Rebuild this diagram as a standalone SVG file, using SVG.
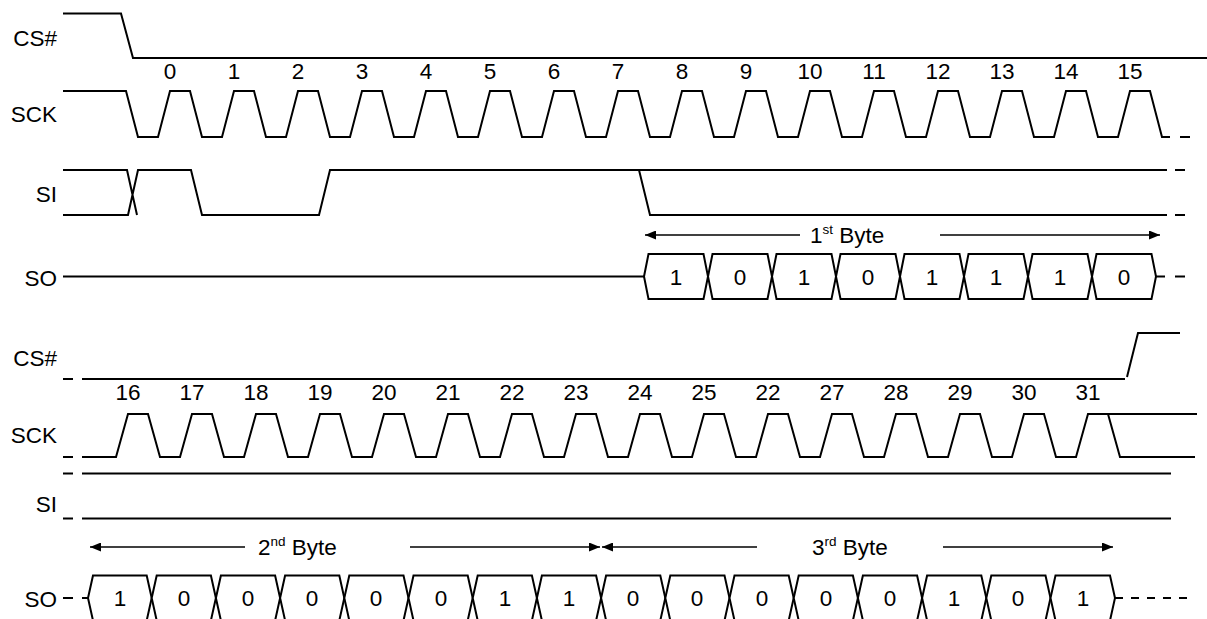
<svg xmlns="http://www.w3.org/2000/svg" width="1207" height="619" viewBox="0 0 1207 619">
<style>
.w{fill:none;stroke:#000;stroke-width:2;stroke-linejoin:miter}
.c{fill:#fff;stroke:#000;stroke-width:2}
.a{fill:none;stroke:#000;stroke-width:1.5}
text{font-family:"Liberation Sans",Arial,sans-serif;font-size:22.5px;fill:#000}
.l{text-anchor:end}
.m{text-anchor:middle}
.sup{font-size:13.5px}
</style>
<defs>
<marker id="ah" viewBox="0 0 11 9" refX="11" refY="4.5" markerWidth="11" markerHeight="9" markerUnits="userSpaceOnUse" orient="auto">
<path d="M0,0 L11,4.5 L0,9 z" fill="#000"/>
</marker>
</defs>
<rect width="1207" height="619" fill="#fff"/>

<g id="top-cs">
<text class="l" x="57" y="45.5">CS#</text>
<path class="w" d="M63,13.5 H121 L133,58 H1207"/>
</g>

<g id="top-sck">
<text class="l" x="57" y="122">SCK</text>
<path class="w" d="M63,91 H126 L138,137 H158 L170,91 H190 L202,137 H222 L234,91 H254 L266,137 H286 L298,91 H318 L330,137 H350 L362,91 H382 L394,137 H414 L426,91 H446 L458,137 H478 L490,91 H510 L522,137 H542 L554,91 H574 L586,137 H606 L618,91 H638 L650,137 H670 L682,91 H702 L714,137 H734 L746,91 H766 L778,137 H798 L810,91 H830 L842,137 H862 L874,91 H894 L906,137 H926 L938,91 H958 L970,137 H990 L1002,91 H1022 L1034,137 H1054 L1066,91 H1086 L1098,137 H1118 L1130,91 H1150 L1162,137 H1170 M1180,137 H1190"/>
<g class="m">
<text x="170" y="79">0</text><text x="234" y="79">1</text><text x="298" y="79">2</text><text x="362" y="79">3</text>
<text x="426" y="79">4</text><text x="490" y="79">5</text><text x="554" y="79">6</text><text x="618" y="79">7</text>
<text x="682" y="79">8</text><text x="746" y="79">9</text><text x="810" y="79">10</text><text x="874" y="79">11</text>
<text x="938" y="79">12</text><text x="1002" y="79">13</text><text x="1066" y="79">14</text><text x="1130" y="79">15</text>
</g>
</g>

<g id="top-si">
<text class="l" x="57" y="202">SI</text>
<path class="w" d="M63,170 H127 L137,215 M63,215 H128 L138,170 H191 L202,215 H319 L330,170 H1167 M639,170 L650,215 H1167 M1175,170 H1185 M1175,215 H1185"/>
</g>

<g id="top-so">
<text class="l" x="57" y="286">SO</text>
<path class="w" d="M63,276.5 H644 M1156,276.5 H1165 M1175,276.5 H1185"/>
<path class="c" d="M644,276.5 L648.5,254 H703.5 L708,276.5 L703.5,299 H648.5 Z"/>
<path class="c" d="M708,276.5 L712.5,254 H767.5 L772,276.5 L767.5,299 H712.5 Z"/>
<path class="c" d="M772,276.5 L776.5,254 H831.5 L836,276.5 L831.5,299 H776.5 Z"/>
<path class="c" d="M836,276.5 L840.5,254 H895.5 L900,276.5 L895.5,299 H840.5 Z"/>
<path class="c" d="M900,276.5 L904.5,254 H959.5 L964,276.5 L959.5,299 H904.5 Z"/>
<path class="c" d="M964,276.5 L968.5,254 H1023.5 L1028,276.5 L1023.5,299 H968.5 Z"/>
<path class="c" d="M1028,276.5 L1032.5,254 H1087.5 L1092,276.5 L1087.5,299 H1032.5 Z"/>
<path class="c" d="M1092,276.5 L1096.5,254 H1151.5 L1156,276.5 L1151.5,299 H1096.5 Z"/>
<g class="m">
<text x="676" y="285">1</text><text x="740" y="285">0</text><text x="804" y="285">1</text><text x="868" y="285">0</text>
<text x="932" y="285">1</text><text x="996" y="285">1</text><text x="1060" y="285">1</text><text x="1124" y="285">0</text>
</g>
</g>

<g id="bottom-cs">
<text class="l" x="57" y="365.5">CS#</text>
<path class="w" d="M63,379 H73 M82,379 H1125 M1127,377 L1138,333 H1180"/>
</g>

<g id="bottom-sck">
<text class="l" x="57" y="443">SCK</text>
<path class="w" d="M63,457 H73 M82,457 H116 L128,414 H148 L160,457 H180 L192,414 H212 L224,457 H244 L256,414 H276 L288,457 H308 L320,414 H340 L352,457 H372 L384,414 H404 L416,457 H436 L448,414 H468 L480,457 H500 L512,414 H532 L544,457 H564 L576,414 H596 L608,457 H628 L640,414 H660 L672,457 H692 L704,414 H724 L736,457 H756 L768,414 H788 L800,457 H820 L832,414 H852 L864,457 H884 L896,414 H916 L928,457 H948 L960,414 H980 L992,457 H1012 L1024,414 H1044 L1056,457 H1076 L1088,414 H1108 L1120,457 H1195 M1108,414 H1197"/>
<g class="m">
<text x="128" y="400">16</text><text x="192" y="400">17</text><text x="256" y="400">18</text><text x="320" y="400">19</text>
<text x="384" y="400">20</text><text x="448" y="400">21</text><text x="512" y="400">22</text><text x="576" y="400">23</text>
<text x="640" y="400">24</text><text x="704" y="400">25</text><text x="768" y="400">22</text><text x="832" y="400">27</text>
<text x="896" y="400">28</text><text x="960" y="400">29</text><text x="1024" y="400">30</text><text x="1088" y="400">31</text>
</g>
</g>

<g id="bottom-si">
<text class="l" x="57" y="512">SI</text>
<path class="w" d="M63,473.5 H73 M82,473.5 H1171 M63,518.5 H73 M82,518.5 H1171"/>
</g>

<g id="bottom-so">
<text class="l" x="57" y="607">SO</text>
<path class="w" d="M63,598 H73 M82,598 H88"/>
<path class="w" d="M1115,598 H1195" stroke-dasharray="8 8"/>
<path class="c" d="M88,598 L93,575.5 H146.7 L151.7,598 L146.7,620.5 H93 Z"/>
<path class="c" d="M151.7,598 L156.7,575.5 H210.9 L215.9,598 L210.9,620.5 H156.7 Z"/>
<path class="c" d="M215.9,598 L220.9,575.5 H275.1 L280.1,598 L275.1,620.5 H220.9 Z"/>
<path class="c" d="M280.1,598 L285.1,575.5 H339.3 L344.3,598 L339.3,620.5 H285.1 Z"/>
<path class="c" d="M344.3,598 L349.3,575.5 H403.5 L408.5,598 L403.5,620.5 H349.3 Z"/>
<path class="c" d="M408.5,598 L413.5,575.5 H467.7 L472.7,598 L467.7,620.5 H413.5 Z"/>
<path class="c" d="M472.7,598 L477.7,575.5 H531.9 L536.9,598 L531.9,620.5 H477.7 Z"/>
<path class="c" d="M536.9,598 L541.9,575.5 H596.1 L601.1,598 L596.1,620.5 H541.9 Z"/>
<path class="c" d="M601.1,598 L606.1,575.5 H660.3 L665.3,598 L660.3,620.5 H606.1 Z"/>
<path class="c" d="M665.3,598 L670.3,575.5 H724.5 L729.5,598 L724.5,620.5 H670.3 Z"/>
<path class="c" d="M729.5,598 L734.5,575.5 H788.7 L793.7,598 L788.7,620.5 H734.5 Z"/>
<path class="c" d="M793.7,598 L798.7,575.5 H852.9 L857.9,598 L852.9,620.5 H798.7 Z"/>
<path class="c" d="M857.9,598 L862.9,575.5 H917.1 L922.1,598 L917.1,620.5 H862.9 Z"/>
<path class="c" d="M922.1,598 L927.1,575.5 H981.3 L986.3,598 L981.3,620.5 H927.1 Z"/>
<path class="c" d="M986.3,598 L991.3,575.5 H1045.5 L1050.5,598 L1045.5,620.5 H991.3 Z"/>
<path class="c" d="M1050.5,598 L1055.5,575.5 H1110 L1115,598 L1110,620.5 H1055.5 Z"/>
<g class="m">
<text x="120" y="606">1</text><text x="184" y="606">0</text><text x="248" y="606">0</text><text x="312" y="606">0</text>
<text x="376" y="606">0</text><text x="441" y="606">0</text><text x="505" y="606">1</text><text x="569" y="606">1</text>
<text x="633" y="606">0</text><text x="697" y="606">0</text><text x="762" y="606">0</text><text x="826" y="606">0</text>
<text x="890" y="606">0</text><text x="954" y="606">1</text><text x="1018" y="606">0</text><text x="1083" y="606">1</text>
</g>
</g>

<g id="connectors">
<line class="a" x1="800" y1="235" x2="645" y2="235" marker-end="url(#ah)"/>
<line class="a" x1="940" y1="235" x2="1160" y2="235" marker-end="url(#ah)"/>
<line class="a" x1="245" y1="547" x2="90" y2="547" marker-end="url(#ah)"/>
<line class="a" x1="410" y1="547" x2="600" y2="547" marker-end="url(#ah)"/>
<line class="a" x1="757" y1="547" x2="602" y2="547" marker-end="url(#ah)"/>
<line class="a" x1="943" y1="547" x2="1113" y2="547" marker-end="url(#ah)"/>
</g>

<g id="byte-labels">
<text x="810" y="243">1<tspan class="sup" dy="-9">st</tspan><tspan dy="9"> Byte</tspan></text>
<text x="258" y="555">2<tspan class="sup" dy="-9">nd</tspan><tspan dy="9"> Byte</tspan></text>
<text x="812" y="555">3<tspan class="sup" dy="-9">rd</tspan><tspan dy="9"> Byte</tspan></text>
</g>
</svg>
